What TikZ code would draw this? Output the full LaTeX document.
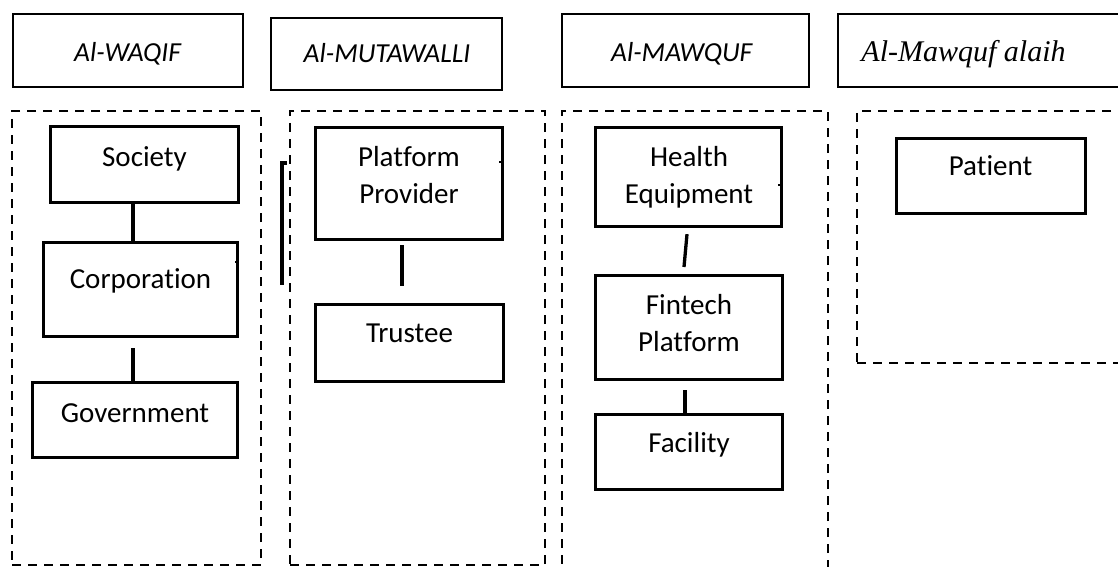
\documentclass[tikz,border=0pt]{standalone}
\usepackage{fontspec}
\setmainfont{Carlito}[Ligatures=NoCommon]
\newfontfamily\tnr{Liberation Serif}
\begin{document}
\begin{tikzpicture}[x=1pt,y=-1pt,
  headbox/.style={draw, line width=2.3pt, inner sep=0pt},
  entbox/.style={draw, line width=3.3pt, inner sep=0pt},
  grp/.style={draw, line width=2pt, dash pattern=on 9pt off 7pt, inner sep=0pt},
  headtxt/.style={font=\fontsize{27.5}{33}\selectfont\itshape, inner sep=0pt, anchor=base},
  enttxt/.style={font=\fontsize{29}{37}\selectfont, inner sep=0pt, anchor=base, align=center},
  conn/.style={line width=3.3pt},
  tick/.style={line width=2pt}]
\useasboundingbox (0,0) rectangle (1118,567);
\clip (0,0) rectangle (1118,567);

% header boxes
\node[headbox, minimum width=230pt, minimum height=73pt] (hw) at (128,50.5) {};
\node[headbox, minimum width=231pt, minimum height=72pt] (hm) at (386.5,54) {};
\node[headbox, minimum width=247pt, minimum height=73pt] (hq) at (685.5,50.5) {};
\node[headbox, minimum width=291pt, minimum height=73pt] (ha) at (983.5,50.5) {};
\node[headtxt] (hwt) at (127.5,62) {Al-WAQIF};
\node[headtxt] (hmt) at (387,63) {Al-MUTAWALLI};
\node[headtxt] (hqt) at (681.7,62) {Al-MAWQUF};
\node[headtxt, font=\fontsize{30}{36}\selectfont\tnr\itshape] (hat) at (963.5,62) {Al-Mawquf alaih};

% dashed groups
\node[grp, minimum width=249pt, minimum height=454pt] (g1) at (136.5,338) {};
\node[grp, minimum width=255pt, minimum height=454pt] (g2) at (417.5,338) {};
\node[grp, minimum width=266pt, minimum height=464pt] (g3) at (695,343) {};
\node[grp, minimum width=273pt, minimum height=252pt] (g4) at (993.5,237) {};

% entity boxes
\node[entbox, minimum width=188pt, minimum height=76pt] (soc) at (144.5,164.5) {};
\node[entbox, minimum width=194pt, minimum height=94pt] (corp) at (140.5,289.5) {};
\node[entbox, minimum width=205pt, minimum height=75pt] (gov) at (135,420) {};
\node[entbox, minimum width=187pt, minimum height=112pt] (pp) at (409,183.5) {};
\node[entbox, minimum width=188pt, minimum height=77pt] (tru) at (409.5,343) {};
\node[entbox, minimum width=186pt, minimum height=99pt] (he) at (688.5,177) {};
\node[entbox, minimum width=187pt, minimum height=104pt] (fp) at (689,327.5) {};
\node[entbox, minimum width=187pt, minimum height=75pt] (fac) at (689,452) {};
\node[entbox, minimum width=189pt, minimum height=75pt] (pat) at (991,176) {};

% texts (base = last line's baseline)
\node[enttxt] (soct) at (144.5,166) {Society};
\node[enttxt] (corpt) at (140.5,288) {Corporation};
\node[enttxt] (govt) at (135,422) {Government};
\node[enttxt] (ppt) at (409,203) {Platform\\Provider};
\node[enttxt] (trut) at (409.5,342) {Trustee};
\node[enttxt] (het) at (689,203) {Health\\Equipment};
\node[enttxt] (fpt) at (689,351) {Fintech\\Platform};
\node[enttxt] (fact) at (689,452) {Facility};
\node[enttxt] (patt) at (990.5,175) {Patient};

% connectors
\coordinate (ptend) at (402,286);
\coordinate (hfend) at (684,267);
\draw[conn] ([xshift=-11.5pt]soc.south) -- ([xshift=-7.5pt]corp.north);
\draw[conn] ([xshift=-7.5pt,yshift=-10pt]corp.south) -- ([xshift=-2pt]gov.north);
\draw[conn] ([xshift=-7pt,yshift=-4pt]pp.south) -- (ptend);
\draw[conn] ([xshift=-1.5pt,yshift=-6pt]he.south) -- (hfend);
\draw[conn] ([xshift=-4pt,yshift=-9pt]fp.south) -- ([xshift=-4pt]fac.north);

% stray marks
\coordinate (sa) at (287,163);
\coordinate (sb) at (282,163);
\coordinate (sc) at (282,285);
\draw[conn] (sa) -- (sb) -- (sc);
\coordinate (t1a) at (235,262);
\coordinate (t1b) at (239,262);
\draw[tick] (t1a) -- (t1b);
\coordinate (t2a) at (499,162);
\coordinate (t2b) at (503,162);
\draw[tick] (t2a) -- (t2b);
\coordinate (t3a) at (778,185);
\coordinate (t3b) at (782,185);
\draw[tick] (t3a) -- (t3b);
\end{tikzpicture}
\end{document}
